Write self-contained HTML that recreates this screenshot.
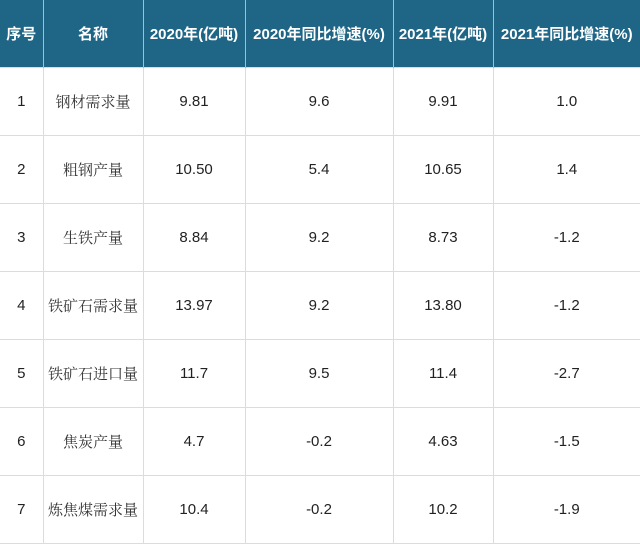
<!DOCTYPE html>
<html><head><meta charset="utf-8"><style>
body{margin:0;width:640px;height:543px;background:#fff;overflow:hidden}
table{border-collapse:collapse;width:640px;table-layout:fixed}
th{background:#1f6585;color:#fff;font:bold 15px "Liberation Sans","Noto Sans CJK SC",sans-serif;height:67px;border-left:1px solid #9fc0d0;padding:0}
th:first-child{border-left:none}
td{height:67px;border:1px solid #dcdcdc;text-align:center;font:15px "Liberation Sans","Noto Sans CJK SC",sans-serif;color:#222;padding:0}
td.n{font-family:"Liberation Serif","Noto Serif CJK SC",serif;color:#333}
tr td:first-child{border-left:none}
tr td:last-child{border-right:none}
</style></head><body>
<table>
<colgroup><col style="width:43px"><col style="width:100px"><col style="width:102px"><col style="width:148px"><col style="width:100px"><col style="width:147px"></colgroup>
<tr><th>序号</th><th>名称</th><th>2020年(亿吨)</th><th>2020年同比增速(%)</th><th>2021年(亿吨)</th><th>2021年同比增速(%)</th></tr>
<tr><td>1</td><td class="n">钢材需求量</td><td>9.81</td><td>9.6</td><td>9.91</td><td>1.0</td></tr>
<tr><td>2</td><td class="n">粗钢产量</td><td>10.50</td><td>5.4</td><td>10.65</td><td>1.4</td></tr>
<tr><td>3</td><td class="n">生铁产量</td><td>8.84</td><td>9.2</td><td>8.73</td><td>-1.2</td></tr>
<tr><td>4</td><td class="n">铁矿石需求量</td><td>13.97</td><td>9.2</td><td>13.80</td><td>-1.2</td></tr>
<tr><td>5</td><td class="n">铁矿石进口量</td><td>11.7</td><td>9.5</td><td>11.4</td><td>-2.7</td></tr>
<tr><td>6</td><td class="n">焦炭产量</td><td>4.7</td><td>-0.2</td><td>4.63</td><td>-1.5</td></tr>
<tr><td>7</td><td class="n">炼焦煤需求量</td><td>10.4</td><td>-0.2</td><td>10.2</td><td>-1.9</td></tr>
</table>
</body></html>
